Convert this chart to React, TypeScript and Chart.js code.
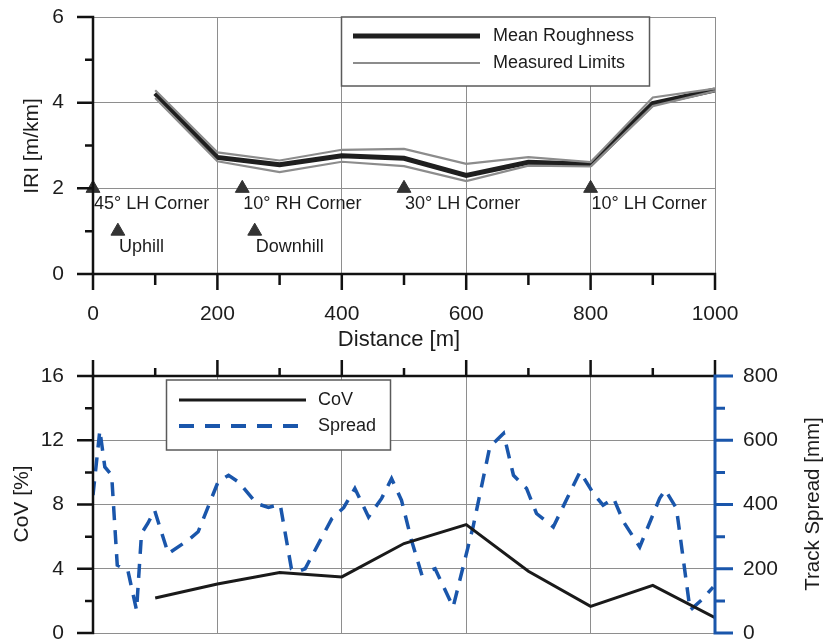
import React, { useEffect, useRef } from 'react';
import { Chart, registerables } from 'chart.js';

Chart.register(...registerables);

const FONT_FAMILY = '"Liberation Sans", Arial, Helvetica, sans-serif';
const TEXT = '#1c1c1c';
const GRID = '#8e8e8e';
const AXIS = '#111111';
const BLUE = '#1a56ab';
const CLEAR = 'rgba(0,0,0,0)';

// IRI along the section, sampled every 100 m
const sectionDistance = [100, 200, 300, 400, 500, 600, 700, 800, 900, 1000];
const meanRoughness = [4.22, 2.72, 2.55, 2.76, 2.7, 2.3, 2.61, 2.56, 3.98, 4.3];
const upperLimit = [4.29, 2.84, 2.65, 2.9, 2.92, 2.57, 2.73, 2.61, 4.12, 4.33];
const lowerLimit = [4.11, 2.63, 2.38, 2.62, 2.52, 2.17, 2.53, 2.51, 3.92, 4.27];

// road features along the section
const featureDistance = [0, 40, 240, 260, 500, 800];
const featureLevel = [2, 1, 2, 1, 2, 2];
const featureLabels = ['45° LH Corner', 'Uphill', '10° RH Corner', 'Downhill', '30° LH Corner', '10° LH Corner'];

// coefficient of variation of IRI, same stations as above
const covValues = [2.18, 3.05, 3.76, 3.49, 5.57, 6.75, 3.84, 1.66, 2.97, 0.96];

// lateral spread of the wheel tracks
const spreadDistance = [
  0, 11, 19, 30, 39, 56, 70, 78, 88, 99, 121, 153, 169, 201, 218, 234, 263, 282, 301, 319,
  330, 341, 384, 403, 421, 443, 464, 480, 496, 512, 528, 550, 579, 611, 638, 660, 676, 697,
  713, 740, 783, 804, 820, 837, 853, 879, 911, 920, 938, 960, 978, 997,
];
const spreadValues = [
  429, 631, 517, 491, 211, 195, 71, 310, 341, 382, 247, 289, 315, 470, 491, 470, 403, 391, 400, 200,
  192, 200, 356, 390, 450, 361, 419, 481, 413, 289, 185, 200, 81, 330, 580, 621, 491, 450,
  372, 330, 502, 436, 398, 419, 346, 268, 419, 445, 388, 71, 102, 143,
];

const font = (size: number) => `${size}px ${FONT_FAMILY}`;
const points = (xs: number[], ys: number[]) => xs.map((x, i) => ({ x, y: ys[i] }));
const plainNumber = (v: number | string) => String(v);

type AxisSpec = {
  scale: string;
  side: 'left' | 'right' | 'top' | 'bottom';
  color: string;
  width: number;
  majorLen: number;
  minorLen: number;
};

// axis lines with outward major and minor tick marks
function drawAxes(chart: any, specs: AxisSpec[]) {
  const ctx = chart.ctx as CanvasRenderingContext2D;
  const a = chart.chartArea;
  for (const s of specs) {
    const sc = chart.scales[s.scale];
    const majors: number[] = sc.ticks.map((t: any) => t.value);
    const minors = majors.slice(1).map((v, i) => (v + majors[i]) / 2);
    ctx.save();
    ctx.strokeStyle = s.color;
    ctx.lineWidth = s.width;
    ctx.lineCap = 'butt';
    ctx.beginPath();
    if (s.side === 'left' || s.side === 'right') {
      const x = s.side === 'left' ? a.left : a.right;
      const dir = s.side === 'left' ? -1 : 1;
      ctx.moveTo(x, a.top - s.width / 2);
      ctx.lineTo(x, a.bottom + s.width / 2);
      for (const v of majors) {
        const y = sc.getPixelForValue(v);
        ctx.moveTo(x, y);
        ctx.lineTo(x + dir * s.majorLen, y);
      }
      for (const v of minors) {
        const y = sc.getPixelForValue(v);
        ctx.moveTo(x, y);
        ctx.lineTo(x + dir * s.minorLen, y);
      }
    } else {
      const y = s.side === 'bottom' ? a.bottom : a.top;
      const dir = s.side === 'bottom' ? 1 : -1;
      ctx.moveTo(a.left - s.width / 2, y);
      ctx.lineTo(a.right + s.width / 2, y);
      for (const v of majors) {
        const x = sc.getPixelForValue(v);
        ctx.moveTo(x, y);
        ctx.lineTo(x, y + dir * s.majorLen);
      }
      for (const v of minors) {
        const x = sc.getPixelForValue(v);
        ctx.moveTo(x, y);
        ctx.lineTo(x, y + dir * s.minorLen);
      }
    }
    ctx.stroke();
    ctx.restore();
  }
}

function legendBox(ctx: CanvasRenderingContext2D, x: number, y: number, w: number, h: number) {
  ctx.save();
  ctx.fillStyle = '#ffffff';
  ctx.fillRect(x, y, w, h);
  ctx.strokeStyle = '#5a5a5a';
  ctx.lineWidth = 1.5;
  ctx.strokeRect(x, y, w, h);
  ctx.restore();
}

function sampleLine(ctx: CanvasRenderingContext2D, x1: number, x2: number, y: number, color: string, width: number, dash: number[] = []) {
  ctx.save();
  ctx.strokeStyle = color;
  ctx.lineWidth = width;
  ctx.setLineDash(dash);
  ctx.beginPath();
  ctx.moveTo(x1, y);
  ctx.lineTo(x2, y);
  ctx.stroke();
  ctx.restore();
}

function text(ctx: CanvasRenderingContext2D, str: string, x: number, y: number, size: number, align: CanvasTextAlign = 'left', rotate = false) {
  ctx.save();
  ctx.fillStyle = TEXT;
  ctx.font = font(size);
  ctx.textAlign = align;
  ctx.textBaseline = 'middle';
  ctx.translate(x, y);
  if (rotate) ctx.rotate(-Math.PI / 2);
  ctx.fillText(str, 0, 0);
  ctx.restore();
}

const tickFont = { family: FONT_FAMILY, size: 21 };

// tick labels are offset by an invisible tick mark so the scale padding stays small
const labelGap = (len: number) => ({ drawTicks: true, tickLength: len, tickColor: CLEAR, color: GRID, lineWidth: 1 });

function makeRoughnessChart(): any {
  return {
    type: 'line',
    data: {
      datasets: [
        { label: 'Upper limit', data: points(sectionDistance, upperLimit), borderColor: '#8c8c8c', borderWidth: 2.2, pointRadius: 0, tension: 0 },
        { label: 'Lower limit', data: points(sectionDistance, lowerLimit), borderColor: '#8c8c8c', borderWidth: 2.2, pointRadius: 0, tension: 0 },
        { label: 'Mean Roughness', data: points(sectionDistance, meanRoughness), borderColor: '#1f1f1f', borderWidth: 5, pointRadius: 0, tension: 0 },
        {
          label: 'Features',
          data: points(featureDistance, featureLevel),
          showLine: false,
          pointStyle: 'triangle',
          pointRadius: 8,
          pointBackgroundColor: '#333333',
          pointBorderColor: '#333333',
          pointBorderWidth: 1,
          clip: false,
        },
      ],
    },
    options: {
      animation: false,
      responsive: false,
      events: [],
      layout: { padding: { top: 17, right: 109, bottom: 0, left: 0 } },
      plugins: { legend: { display: false }, tooltip: { enabled: false } },
      scales: {
        x: {
          type: 'linear',
          position: 'bottom',
          min: 0,
          max: 1000,
          ticks: { stepSize: 200, padding: 0, font: tickFont, color: TEXT, maxRotation: 0, callback: plainNumber },
          grid: labelGap(28),
          border: { display: false },
          afterFit: (s: any) => { s.height = 81; },
        },
        y: {
          type: 'linear',
          min: 0,
          max: 6,
          ticks: { stepSize: 2, padding: 0, font: tickFont, color: TEXT, callback: plainNumber },
          grid: labelGap(29),
          border: { display: false },
          afterFit: (s: any) => { s.width = 93; },
        },
      },
    },
    plugins: [
      {
        id: 'roughnessDecor',
        afterDatasetsDraw(chart: any) {
          const ctx = chart.ctx as CanvasRenderingContext2D;
          const xs = chart.scales.x;
          const ys = chart.scales.y;
          featureLabels.forEach((label, i) => {
            const px = xs.getPixelForValue(featureDistance[i]);
            const py = ys.getPixelForValue(featureLevel[i]);
            text(ctx, label, px + 1, py + 16, 18);
          });
          legendBox(ctx, 341.5, 17, 308, 69);
          sampleLine(ctx, 353, 480, 36, '#1f1f1f', 5);
          sampleLine(ctx, 353, 480, 63, '#8c8c8c', 2.2);
          text(ctx, 'Mean Roughness', 493, 36, 18);
          text(ctx, 'Measured Limits', 493, 63, 18);
          drawAxes(chart, [
            { scale: 'y', side: 'left', color: AXIS, width: 2.5, majorLen: 16, minorLen: 8 },
            { scale: 'x', side: 'bottom', color: AXIS, width: 2.5, majorLen: 16, minorLen: 11 },
          ]);
          text(ctx, 'IRI [m/km]', 32, 146, 21, 'center', true);
          text(ctx, 'Distance [m]', 399, 340, 22, 'center');
        },
      },
    ],
  };
}

function makeSpreadChart(): any {
  return {
    type: 'line',
    data: {
      datasets: [
        { label: 'CoV', data: points(sectionDistance, covValues), yAxisID: 'y', borderColor: '#1a1a1a', borderWidth: 3, pointRadius: 0, tension: 0 },
        { label: 'Spread', data: points(spreadDistance, spreadValues), yAxisID: 'y1', borderColor: BLUE, borderWidth: 3.5, borderDash: [14, 10], pointRadius: 0, tension: 0 },
      ],
    },
    options: {
      animation: false,
      responsive: false,
      events: [],
      layout: { padding: { top: 0, right: 0, bottom: 14, left: 0 } },
      plugins: { legend: { display: false }, tooltip: { enabled: false } },
      scales: {
        x: {
          type: 'linear',
          position: 'top',
          min: 0,
          max: 1000,
          ticks: { stepSize: 200, display: false },
          grid: { drawTicks: false, color: GRID, lineWidth: 1 },
          border: { display: false },
          afterFit: (s: any) => { s.height = 21; },
        },
        y: {
          type: 'linear',
          position: 'left',
          min: 0,
          max: 16,
          ticks: { stepSize: 4, padding: 0, font: tickFont, color: TEXT, callback: plainNumber },
          grid: labelGap(29),
          border: { display: false },
          afterFit: (s: any) => { s.width = 93; },
        },
        y1: {
          type: 'linear',
          position: 'right',
          min: 0,
          max: 800,
          ticks: { stepSize: 200, padding: 0, font: tickFont, color: TEXT, callback: plainNumber },
          grid: { drawOnChartArea: false, drawTicks: true, tickLength: 28, tickColor: CLEAR },
          border: { display: false },
          afterFit: (s: any) => { s.width = 109; },
        },
      },
    },
    plugins: [
      {
        id: 'spreadDecor',
        afterDatasetsDraw(chart: any) {
          const ctx = chart.ctx as CanvasRenderingContext2D;
          legendBox(ctx, 166.5, 25, 224, 70);
          sampleLine(ctx, 179, 306, 45, '#1a1a1a', 3);
          sampleLine(ctx, 179, 306, 71, BLUE, 4, [15, 11]);
          text(ctx, 'CoV', 318, 45, 18);
          text(ctx, 'Spread', 318, 71, 18);
          drawAxes(chart, [
            { scale: 'x', side: 'top', color: AXIS, width: 2.5, majorLen: 16, minorLen: 8 },
            { scale: 'y', side: 'left', color: AXIS, width: 2.5, majorLen: 16, minorLen: 8 },
            { scale: 'y1', side: 'right', color: BLUE, width: 3, majorLen: 18, minorLen: 10 },
          ]);
          text(ctx, 'CoV [%]', 22, 149, 21, 'center', true);
          text(ctx, 'Track Spread [mm]', 813, 149, 20.5, 'center', true);
        },
      },
    ],
  };
}

function ChartCanvas({ build, width, height, top }: { build: () => any; width: number; height: number; top: number }) {
  const ref = useRef<HTMLCanvasElement>(null);
  useEffect(() => {
    if (!ref.current) return;
    const chart = new Chart(ref.current, build());
    return () => chart.destroy();
  }, [build]);
  return (
    <canvas
      ref={ref}
      width={width}
      height={height}
      style={{ position: 'absolute', left: 0, top, width, height, display: 'block' }}
    />
  );
}

export default function App() {
  return (
    <div style={{ position: 'fixed', left: 0, top: 0, width: 824, height: 643, overflow: 'hidden', background: '#ffffff' }}>
      <ChartCanvas build={makeRoughnessChart} width={824} height={355} top={0} />
      <ChartCanvas build={makeSpreadChart} width={824} height={292} top={355} />
    </div>
  );
}
